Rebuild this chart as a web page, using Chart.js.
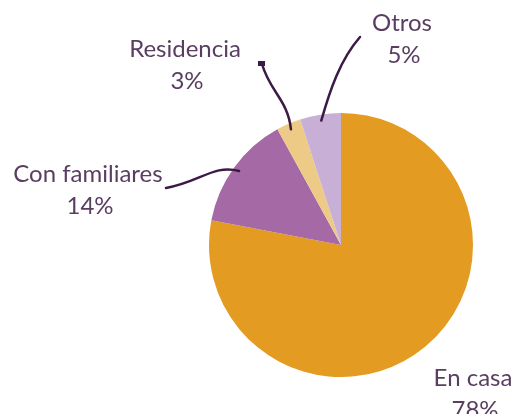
<!DOCTYPE html>
<html>
<head>
<meta charset="utf-8">
<script src="https://cdn.jsdelivr.net/npm/chart.js@4"></script>
<style>
  html, body { margin: 0; padding: 0; background: #fff; }
  #wrap { width: 512px; height: 414px; }
</style>
</head>
<body>
<div id="wrap"><canvas id="pieChart" width="512" height="414"></canvas></div>
<script>
const categories = ['En casa', 'Con familiares', 'Residencia', 'Otros'];
const percentValues = [78, 14, 3, 5];
const sliceColors = ['#E39B21', '#A56AA6', '#EDCB86', '#C8AFD5'];

// where each label sits, and where its leader line starts (null = no line)
const labelPlaces = [
  { x: 473, y: 386, lineFrom: null },
  { x: 88, y: 182, lineFrom: { x: 166, y: 188 }, bend: [{ x: 200, y: 182 }, { x: 214, y: 164 }] },
  { x: 185, y: 57, lineFrom: { x: 262, y: 64 }, bend: [{ x: 270, y: 92 }, { x: 288, y: 100 }] },
  { x: 402, y: 31, lineFrom: { x: 360, y: 37 }, bend: [{ x: 340, y: 60 }, { x: 330, y: 90 }] },
];

const textColor = '#5A3E62';
const lineColor = '#3B1B46';

const pieLabels = {
  id: 'pieLabels',
  afterDraw(chart) {
    const { ctx } = chart;
    const arcs = chart.getDatasetMeta(0).data;
    ctx.save();
    arcs.forEach((arc, i) => {
      const place = labelPlaces[i];
      if (!place.lineFrom) return;
      const mid = (arc.startAngle + arc.endAngle) / 2;
      const r = arc.outerRadius - 6;
      const ex = arc.x + Math.cos(mid) * r;
      const ey = arc.y + Math.sin(mid) * r;
      ctx.strokeStyle = lineColor;
      ctx.lineWidth = 2.5;
      ctx.lineCap = 'round';
      ctx.beginPath();
      ctx.moveTo(place.lineFrom.x, place.lineFrom.y);
      ctx.bezierCurveTo(place.bend[0].x, place.bend[0].y, place.bend[1].x, place.bend[1].y, ex, ey);
      ctx.stroke();
    });
    // small blob on the Residencia line end
    ctx.fillStyle = lineColor;
    ctx.fillRect(labelPlaces[2].lineFrom.x - 4, labelPlaces[2].lineFrom.y - 3, 7, 5);

    ctx.fillStyle = textColor;
    ctx.font = '24px Lato';
    ctx.textAlign = 'center';
    ctx.textBaseline = 'alphabetic';
    categories.forEach((name, i) => {
      const place = labelPlaces[i];
      ctx.fillText(name, place.x, place.y);
      ctx.fillText(percentValues[i] + '%', place.x + 2, place.y + 32);
    });
    ctx.restore();
  },
};

new Chart(document.getElementById('pieChart').getContext('2d'), {
  type: 'pie',
  data: {
    labels: categories,
    datasets: [{
      data: percentValues,
      backgroundColor: sliceColors,
      borderWidth: 0,
    }],
  },
  options: {
    responsive: false,
    animation: false,
    layout: {
      padding: { left: 209, right: 39, top: 113, bottom: 37 },
    },
    plugins: {
      legend: { display: false },
      tooltip: { enabled: false },
    },
  },
  plugins: [pieLabels],
});
</script>
</body>
</html>
